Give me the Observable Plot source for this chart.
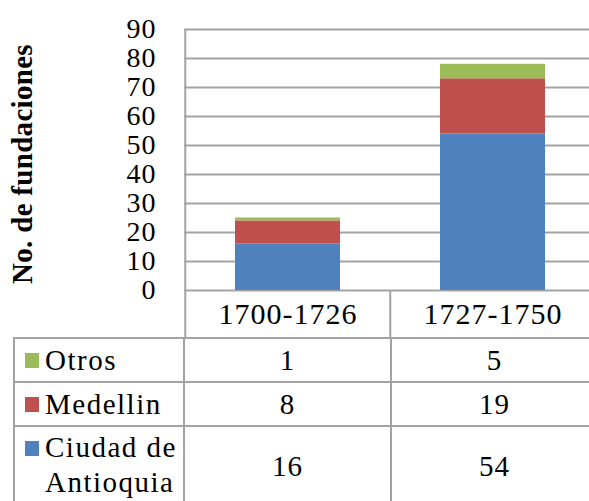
<!DOCTYPE html>
<html>
<head>
<meta charset="utf-8">
<script src="https://cdn.jsdelivr.net/npm/d3@7"></script>
<script src="https://cdn.jsdelivr.net/npm/@observablehq/plot@0.6"></script>
</head>
<body style="margin:0;padding:0;background:#fff;overflow:hidden">
<div id="wrap" style="width:600px"></div>
<script>
// ---- data ----
const categories = ["1700-1726", "1727-1750"];
const seriesStack = ["Ciudad de Antioquia", "Medellin", "Otros"]; // bottom to top
const ciudad = [16, 54];
const medellin = [8, 19];
const otros = [1, 5];
const yTicks = [0, 10, 20, 30, 40, 50, 60, 70, 80, 90];
const colors = ["#4F81BD", "#C0504D", "#9BBB59"];
const yTitle = "No. de fundaciones";

const seriesValues = [ciudad, medellin, otros];
const data = [];
categories.forEach((c, i) => {
  seriesStack.forEach((s, k) => data.push({period: c, series: s, value: seriesValues[k][i]}));
});

// ---- layout ----
const W = 595, H = 337, ML = 184, MR = 0, MT = 29, MB = 47;
const plotH = H - MT - MB;
const step = (W - ML - MR) / categories.length;
const grid = "#a3a3a3";
const FAM = '"Liberation Serif", serif';

const chart = Plot.plot({
  width: W, height: H,
  marginLeft: ML, marginRight: MR, marginTop: MT, marginBottom: MB,
  style: { fontFamily: FAM, fontSize: "28px", color: "#000", background: "#fff", overflow: "visible", display: "block" },
  x: { domain: categories, paddingInner: 0.49, paddingOuter: 0.245, label: null },
  y: { domain: [0, 90], label: null },
  color: { domain: seriesStack, range: colors },
  marks: [
    Plot.ruleY(yTicks, { stroke: grid, strokeWidth: 2 }),
    Plot.barY(data, { x: "period", y: "value", fill: "series", order: seriesStack }),
    Plot.ruleX([categories[0]], { x: d => d, dx: -step / 2, stroke: grid, strokeWidth: 2, insetBottom: -MB }),
    Plot.ruleX(categories.slice(1), { x: d => d, dx: -step / 2, stroke: grid, strokeWidth: 2, insetTop: plotH, insetBottom: -MB }),
    Plot.axisY({ ticks: yTicks, tickSize: 0, tickPadding: 28, label: null, fontSize: 28 }),
    Plot.axisX({ tickSize: 0, tickPadding: 12, label: null, fontSize: 30 }),
    Plot.text([yTitle], { frameAnchor: "left", textAnchor: "middle", rotate: -90, dx: -162, dy: 4, fontWeight: "bold", fontSize: 29, text: d => d })
  ]
});
chart.querySelectorAll("text").forEach(t => {
  t.style.fontFamily = FAM;
  t.setAttribute("font-family", "Liberation Serif");
  const txt = t.textContent;
  if (txt === yTitle) t.style.letterSpacing = "0.3px";
  else t.style.letterSpacing = "1px";
});
document.getElementById("wrap").appendChild(chart);

// ---- data table (legend + values), built from div cells ----
const rows = [
  { name: "Otros", vals: otros, color: colors[2], h: 44 },
  { name: "Medellin", vals: medellin, color: colors[1], h: 44 },
  { name: "Ciudad de Antioquia", vals: ciudad, color: colors[0], h: 80, multi: true }
];
const colW = [170, 207, 207];
const bd = "2px solid " + grid;
const tbl = document.createElement("div");
tbl.style.cssText = `display:grid;grid-template-columns:${colW.map(w => w + "px").join(" ")};grid-template-rows:${rows.map(r => r.h + "px").join(" ")};margin-left:13px;width:${colW.reduce((a, b) => a + b, 0)}px;color:#000;`;
tbl.style.fontFamily = FAM;
rows.forEach(r => {
  const lab = document.createElement("div");
  lab.style.cssText = `box-sizing:border-box;border-left:${bd};border-top:${bd};display:flex;padding-left:10px;white-space:nowrap;` + (r.multi ? "align-items:flex-start;padding-top:3px;" : "align-items:center;");
  const sw = document.createElement("div");
  sw.style.cssText = "flex:none;width:14px;height:15px;margin-right:6px;" + (r.multi ? "margin-top:11px;" : "");
  sw.style.background = r.color;
  const tx = document.createElement("div");
  tx.style.fontFamily = FAM;
  tx.style.fontSize = "29px";
  tx.style.letterSpacing = "1.5px";
  tx.style.lineHeight = "35px";
  if (r.multi) {
    const cut = r.name.lastIndexOf(" ");
    tx.appendChild(document.createTextNode(r.name.slice(0, cut)));
    tx.appendChild(document.createElement("br"));
    tx.appendChild(document.createTextNode(r.name.slice(cut + 1)));
  } else {
    tx.textContent = r.name;
  }
  lab.appendChild(sw); lab.appendChild(tx);
  tbl.appendChild(lab);
  r.vals.forEach(v => {
    const c = document.createElement("div");
    c.style.cssText = `box-sizing:border-box;border-left:${bd};border-top:${bd};display:flex;align-items:center;justify-content:center;`;
    c.style.fontFamily = FAM;
    c.style.fontSize = "29px";
    c.style.letterSpacing = "1px";
    c.textContent = v;
    tbl.appendChild(c);
  });
});
document.getElementById("wrap").appendChild(tbl);
</script>
</body>
</html>
